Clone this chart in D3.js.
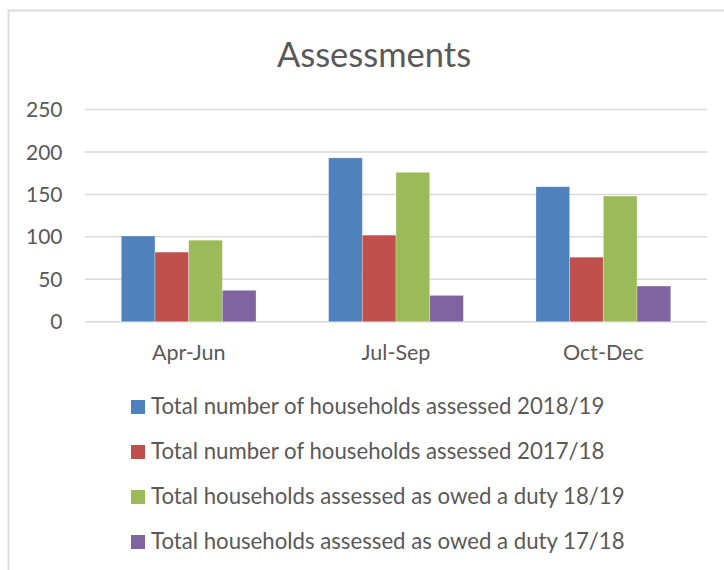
<!DOCTYPE html>
<html lang="en">
<head>
<meta charset="utf-8">
<script src="https://d3js.org/d3.v7.min.js"></script>
<style>
    body { margin: 0; background: #fff; }
    svg { display: block; font-family: Lato, "Open Sans", sans-serif; }
</style>
</head>
<body>
<script>
    // data
    const quarters = ["Apr-Jun", "Jul-Sep", "Oct-Dec"];
    const seriesNames = [
        "Total number of households assessed 2018/19",
        "Total number of households assessed 2017/18",
        "Total households assessed as owed a duty 18/19",
        "Total households assessed as owed a duty 17/18"
    ];
    const assessed1819 = [101, 193, 159];
    const assessed1718 = [82, 102, 76];
    const owedDuty1819 = [96, 176, 148];
    const owedDuty1718 = [37, 31, 42];
    const yTicks = [0, 50, 100, 150, 200, 250];
    const colors = ["#4f81bd", "#c0504d", "#9bbb59", "#8064a2"];

    const allSeries = [assessed1819, assessed1718, owedDuty1819, owedDuty1718];

    const width = 724, height = 570;
    const textColor = "#595959";

    const svg = d3.select("body").append("svg")
        .attr("width", width)
        .attr("height", height);

    // chart border (runs off right and bottom)
    svg.append("rect")
        .attr("x", 8.5).attr("y", 10.5)
        .attr("width", 740).attr("height", 600)
        .attr("fill", "none")
        .attr("stroke", "#d9d9d9")
        .attr("stroke-width", 1.8);

    // title
    svg.append("text")
        .attr("x", 374).attr("y", 67)
        .attr("text-anchor", "middle")
        .attr("fill", textColor)
        .style("font-size", "34.5px")
        .text("Assessments");

    // scales
    const x0 = d3.scaleBand()
        .domain(quarters)
        .range([85, 707])
        .paddingInner(0.35)
        .paddingOuter(0.175);

    const x1 = d3.scaleBand()
        .domain(d3.range(allSeries.length))
        .range([0, x0.bandwidth()]);

    const y = d3.scaleLinear()
        .domain([0, 250])
        .range([321.7, 109.5]);

    // gridlines
    svg.append("g")
        .selectAll("line")
        .data(yTicks)
        .join("line")
        .attr("x1", 85).attr("x2", 707)
        .attr("y1", d => y(d)).attr("y2", d => y(d))
        .attr("stroke", "#d9d9d9")
        .attr("stroke-width", 1.5);

    // y labels
    svg.append("g")
        .selectAll("text")
        .data(yTicks)
        .join("text")
        .attr("x", 62.5)
        .attr("y", d => y(d))
        .attr("dy", "0.36em")
        .attr("text-anchor", "end")
        .attr("fill", textColor)
        .style("font-size", "21px")
        .text(d => d);

    // bars
    const groups = svg.append("g")
        .selectAll("g")
        .data(quarters)
        .join("g")
        .attr("transform", d => `translate(${x0(d)},0)`);

    groups.selectAll("rect")
        .data((q, qi) => allSeries.map((s, si) => ({ si: si, v: s[qi] })))
        .join("rect")
        .attr("x", d => x1(d.si))
        .attr("y", d => y(d.v))
        .attr("width", x1.bandwidth())
        .attr("height", d => y(0) - y(d.v))
        .attr("fill", d => colors[d.si])
        .attr("stroke", "rgba(255,255,255,0.35)")
        .attr("stroke-width", 0.8);

    // category labels
    svg.append("g")
        .selectAll("text")
        .data(quarters)
        .join("text")
        .attr("x", d => x0(d) + x0.bandwidth() / 2)
        .attr("y", 360)
        .attr("text-anchor", "middle")
        .attr("fill", textColor)
        .style("font-size", "21.5px")
        .text(d => d);

    // legend
    const legend = svg.append("g")
        .selectAll("g")
        .data(seriesNames)
        .join("g")
        .attr("transform", (d, i) => `translate(131,${414 + i * 45})`);

    legend.append("rect")
        .attr("x", 0).attr("y", -14)
        .attr("width", 14).attr("height", 14)
        .attr("fill", (d, i) => colors[i]);

    legend.append("text")
        .attr("x", 20)
        .attr("fill", textColor)
        .style("font-size", "22.2px")
        .text(d => d);
</script>
</body>
</html>
